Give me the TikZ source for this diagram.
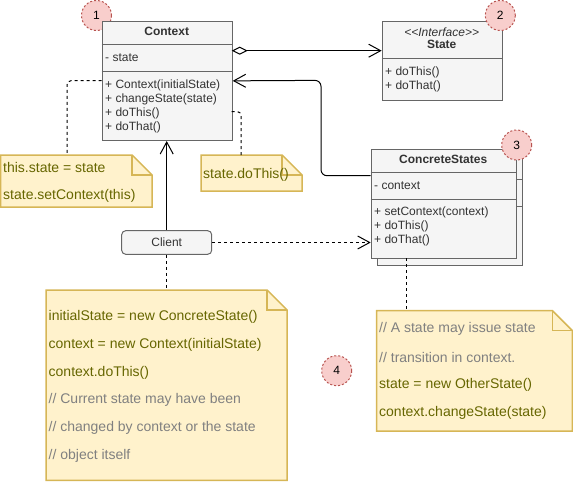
\documentclass[tikz,border=0pt]{standalone}
\usepackage{fontspec}
\setmainfont{Liberation Sans}
\usetikzlibrary{arrows.meta}
\definecolor{boxfill}{HTML}{F5F5F5}
\definecolor{boxline}{HTML}{666666}
\definecolor{boxtext}{HTML}{333333}
\definecolor{notefill}{HTML}{FFF2CC}
\definecolor{noteline}{HTML}{D6B656}
\definecolor{codetext}{HTML}{666600}
\definecolor{commtext}{HTML}{808080}
\definecolor{badgefill}{HTML}{F8CECC}
\definecolor{badgeline}{HTML}{B85450}
\newcommand\mynote[1]{%
  \draw[noteshape] (#1.north west) -- ([xshift=-20pt]#1.north east) -- ([yshift=-20pt]#1.north east) -- (#1.south east) -- (#1.south west) -- cycle;
  \draw[noteshape, fill=none] ([xshift=-20pt]#1.north east) -- ([xshift=-20pt,yshift=-20pt]#1.north east) -- ([yshift=-20pt]#1.north east);}
\begin{document}
\begin{tikzpicture}[x=1pt,y=-1pt,
  umlbox/.style={draw=boxline, fill=boxfill, line width=1pt, rectangle, inner sep=0pt, anchor=north west},
  divider/.style={draw=boxline, line width=1pt},
  member/.style={anchor=west, inner sep=0pt, text=boxtext, font=\fontsize{12}{14}\selectfont},
  titletext/.style={anchor=center, inner sep=0pt, text=boxtext, font=\fontsize{12}{14}\selectfont\bfseries},
  notearea/.style={rectangle, inner sep=0pt, anchor=north west},
  noteshape/.style={draw=noteline, fill=notefill, line width=1.5pt, line join=miter},
  code/.style={anchor=west, inner sep=0pt, text=codetext, font=\fontsize{14}{16}\selectfont},
  comment/.style={anchor=west, inner sep=0pt, text=commtext, font=\fontsize{14}{16}\selectfont},
  badge/.style={circle, minimum size=30pt, inner sep=0pt, fill=badgefill, draw=badgeline, line width=1pt, dash pattern=on 2pt off 2pt, font=\fontsize{12}{14}\selectfont},
  conn/.style={draw=black, line width=1pt},
  noteconn/.style={draw=black, line width=1pt, dash pattern=on 3pt off 3pt},
  openarrow/.style={-{Straight Barb[length=12pt,width=13pt]}},
]
\useasboundingbox (0,0) rectangle (573,482);

% badge 1 (behind Context)
\node[badge] (b1) at (96.5,15.5) {1};

% Context class
\node[umlbox, minimum width=130pt, minimum height=119.3pt] (ctx) at (101.7,20.7) {};
\draw[divider] (101.7,44) -- (231.7,44);
\draw[divider] (101.7,71) -- (231.7,71);
\node[titletext] (ctxT) at (166.7,31.5) {Context};
\node[member] (ctxA) at (105,58) {- state};
\node[member] (ctxM1) at (105,85.3) {+ Context(initialState)};
\node[member] (ctxM2) at (105,99.3) {+ changeState(state)};
\node[member] (ctxM3) at (105,113.3) {+ doThis()};
\node[member] (ctxM4) at (105,127.3) {+ doThat()};

% State interface
\node[umlbox, minimum width=120pt, minimum height=79.3pt] (st) at (381.7,20.7) {};
\draw[divider] (381.7,58.3) -- (501.7,58.3);
\node[anchor=center, inner sep=0pt, text=boxtext, font=\fontsize{12}{14}\selectfont\itshape] (stI) at (441.7,32) {<{}<Interface>{}>};
\node[titletext] (stT) at (441.7,44.7) {State};
\node[member] (stM1) at (385,72) {+ doThis()};
\node[member] (stM2) at (385,86) {+ doThat()};

% ConcreteStates (stacked)
\node[umlbox, minimum width=145pt, minimum height=109.3pt] (csb) at (376.7,156) {};
\draw[divider] (376.7,179.7) -- (521.7,179.7);
\draw[divider] (376.7,206.3) -- (521.7,206.3);
\node[umlbox, minimum width=145pt, minimum height=109.3pt] (cs) at (370.7,149) {};
\draw[divider] (370.7,172.7) -- (515.7,172.7);
\draw[divider] (370.7,199.3) -- (515.7,199.3);
\node[titletext] (csT) at (443.2,159) {ConcreteStates};
\node[member] (csA) at (374,185.3) {- context};
\node[member] (csM1) at (374,212.7) {+ setContext(context)};
\node[member] (csM2) at (374,226.7) {+ doThis()};
\node[member] (csM3) at (374,240.7) {+ doThat()};

% Client
\node[draw=boxline, fill=boxfill, line width=1pt, rounded corners=4pt, minimum width=90pt, minimum height=23.6pt, inner sep=0pt, text=boxtext, font=\fontsize{12}{14}\selectfont] (cl) at (166.7,242.5) {Client};

% Notes
\node[notearea, minimum width=151pt, minimum height=51.7pt] (nL) at (0.7,155) {};
\mynote{nL}
\node[code] (nL1) at (3,167.5) {this.state = state};
\node[code] (nL2) at (3,196) {state.setContext(this)};

\node[notearea, minimum width=100.7pt, minimum height=35.7pt] (nD) at (201,155) {};
\mynote{nD}
\node[code] (nD1) at (203,174.5) {state.doThis()};

\node[notearea, minimum width=240.7pt, minimum height=190pt] (nC) at (46,290) {};
\mynote{nC}
\node[code] (nC1) at (48.5,316.7) {initialState = new ConcreteState()};
\node[code] (nC2) at (48.5,344.5) {context = new Context(initialState)};
\node[code] (nC3) at (48.5,372.5) {context.doThis()};
\node[comment] (nC4) at (48.5,400.3) {// Current state may have been};
\node[comment] (nC5) at (48.5,428.3) {// changed by context or the state};
\node[comment] (nC6) at (48.5,456.3) {// object itself};

\node[notearea, minimum width=195.3pt, minimum height=120pt] (nS) at (376.7,310.7) {};
\mynote{nS}
\node[comment] (nS1) at (379,329.3) {// A state may issue state};
\node[comment] (nS2) at (379,357.3) {// transition in context.};
\node[code] (nS3) at (379,385.3) {state = new OtherState()};
\node[code] (nS4) at (379,413.3) {context.changeState(state)};

% connector end points on borders
\coordinate (ctxAgg) at (231.7,50.7);
\coordinate (csLink) at (370.7,175.7);
\coordinate (ctxDo) at (231.7,111.5);
\coordinate (ctxL) at (101.7,80.7);
\coordinate (nLtop) at (67,155);
\coordinate (nDtop) at (241,155);
\coordinate (csBot) at (406.7,258.3);

% Connectors
\draw[conn, {Diamond[open,fill=white,length=16pt,width=8pt]}-{Straight Barb[length=12pt,width=13pt]}] (ctxAgg) -- (ctxAgg -| st.west);
\draw[conn, openarrow, rounded corners=6pt] (csLink) -- (321,175.7) -- (321,80.35) -- (ctx.east);
\draw[conn, openarrow] (cl.north) -- (cl.north |- ctx.south);
\draw[noteconn, openarrow] (cl.east) -- (cl.east -| cs.west);
\draw[noteconn] (cl.south) -- (cl.south |- nC.north);
\draw[noteconn] (csBot) -- (csBot |- nS.north);
\draw[noteconn, rounded corners=4pt] (ctxL) -| (nLtop);
\draw[noteconn, rounded corners=4pt] (ctxDo) -| (nDtop);

% badges on top
\node[badge] (b2) at (500.3,15.5) {2};
\node[badge] (b3) at (516.7,145) {3};
\node[badge] (b4) at (336.7,370.7) {4};
\end{tikzpicture}
\end{document}
